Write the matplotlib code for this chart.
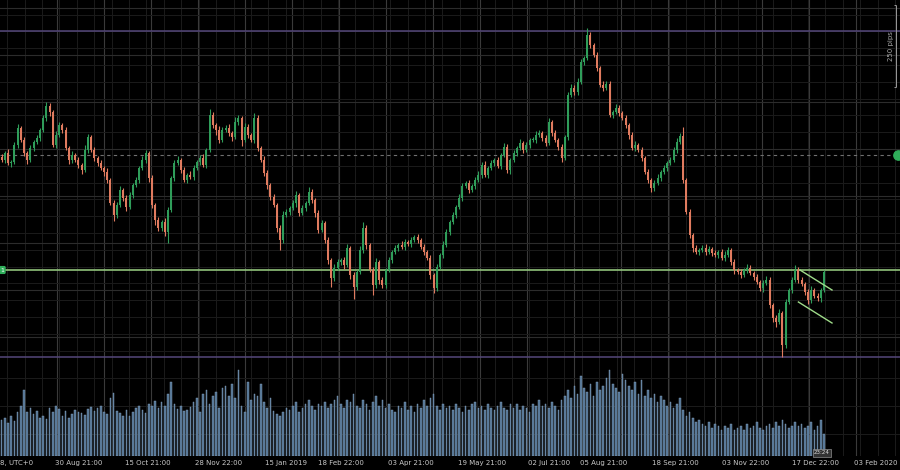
import matplotlib
matplotlib.use('Agg')
import matplotlib.pyplot as plt
import numpy as np

# close levels (1 unit ~ 3 pips above 1.2000), one value per daily candle
closes = [
    200, 207, 197, 198, 215, 232, 220, 207, 200, 212,
    218, 222, 230, 242, 254, 248, 215, 225, 235, 230,
    212, 200, 205, 200, 195, 190, 210, 223, 210, 202,
    197, 192, 188, 180, 157, 145, 155, 170, 162, 153,
    165, 175, 180, 192, 200, 207, 182, 155, 140, 132,
    138, 128, 150, 182, 197, 200, 190, 180, 185, 183,
    192, 198, 202, 195, 210, 245, 235, 230, 220, 230,
    232, 227, 223, 238, 242, 220, 233, 225, 220, 242,
    212, 200, 187, 175, 163, 155, 132, 120, 145, 148,
    152, 157, 165, 147, 152, 157, 168, 160, 147, 130,
    137, 120, 100, 82, 92, 98, 100, 95, 112, 85,
    73, 88, 110, 132, 115, 90, 75, 98, 80, 75,
    90, 100, 108, 112, 115, 113, 118, 116, 120, 123,
    120, 113, 108, 102, 85, 72, 93, 105, 115, 128,
    138, 145, 153, 162, 174, 177, 170, 174, 180, 185,
    195, 185, 192, 197, 200, 194, 205, 213, 190, 200,
    207, 212, 217, 210, 215, 220, 220, 225, 227, 222,
    217, 238, 227, 220, 213, 202, 223, 265, 272, 268,
    278, 298, 302, 325, 315, 305, 292, 275, 272, 276,
    245, 248, 252, 247, 242, 235, 225, 212, 215, 210,
    202, 188, 180, 172, 177, 182, 188, 192, 197, 200,
    210, 218, 224, 180, 148, 125, 112, 108, 110, 112,
    108, 111, 107, 105, 108, 102, 105, 110, 98, 90,
    88, 85, 90, 92, 87, 83, 78, 72, 77, 80,
    55, 42, 38, 47, 15, 58, 70, 80, 90, 80,
    76, 68, 60, 70, 64, 62, 70, 88,
]
first_open = 203

wick_up = [
    3, 2, 4, 2, 3, 4, 2, 3, 2, 3,
    2, 3, 2, 3, 4, 3, 2, 4, 3, 2,
    3, 2, 4, 2, 3, 2, 5, 3, 2, 3,
    2, 3, 2, 4, 2, 3, 3, 4, 2, 3,
    3, 2, 3, 2, 4, 3, 2, 3, 2, 3,
    2, 4, 3, 2, 3, 4, 2, 3, 2, 4,
    3, 2, 3, 4, 2, 6, 3, 2, 4, 3,
    3, 4, 2, 5, 3, 2, 4, 3, 2, 5,
    3, 2, 4, 3, 2, 3, 2, 3, 4, 3,
    2, 3, 4, 2, 3, 2, 5, 3, 2, 3,
    3, 2, 3, 2, 4, 3, 2, 3, 4, 2,
    3, 2, 4, 6, 3, 2, 3, 4, 2, 3,
    2, 3, 2, 3, 2, 4, 3, 2, 3, 2,
    3, 2, 3, 2, 3, 2, 3, 2, 4, 3,
    2, 3, 2, 4, 3, 2, 3, 2, 3, 4,
    3, 4, 2, 3, 2, 3, 2, 4, 3, 2,
    3, 2, 4, 2, 3, 2, 3, 4, 3, 2,
    3, 4, 2, 3, 2, 3, 2, 3, 4, 3,
    4, 3, 2, 7, 3, 2, 3, 2, 4, 3,
    3, 2, 4, 3, 2, 3, 2, 3, 4, 2,
    3, 2, 3, 2, 3, 4, 2, 3, 2, 3,
    3, 4, 3, 9, 2, 3, 2, 3, 2, 3,
    4, 3, 2, 3, 2, 3, 4, 3, 2, 3,
    2, 3, 2, 4, 3, 2, 3, 2, 3, 4,
    3, 2, 3, 4, 2, 3, 2, 3, 5, 3,
    3, 2, 3, 4, 2, 3, 2, 2,
]
wick_dn = [
    2, 3, 2, 4, 2, 3, 2, 3, 4, 2,
    3, 2, 3, 2, 3, 4, 2, 3, 2, 3,
    2, 4, 3, 2, 3, 4, 2, 3, 2, 3,
    3, 2, 4, 3, 2, 6, 3, 2, 3, 4,
    2, 3, 2, 3, 2, 3, 4, 3, 5, 3,
    3, 4, 11, 2, 3, 2, 3, 2, 3, 2,
    3, 2, 3, 2, 3, 2, 3, 5, 3, 2,
    2, 3, 4, 2, 3, 6, 2, 3, 2, 3,
    3, 2, 3, 4, 3, 2, 4, 10, 3, 2,
    3, 2, 4, 3, 2, 3, 2, 3, 4, 3,
    2, 3, 4, 9, 3, 2, 3, 4, 2, 4,
    12, 3, 2, 3, 4, 2, 10, 3, 4, 3,
    3, 2, 3, 2, 3, 2, 3, 2, 3, 2,
    3, 2, 3, 2, 4, 5, 3, 2, 3, 2,
    3, 2, 3, 2, 3, 2, 3, 2, 3, 2,
    3, 2, 3, 2, 3, 2, 3, 2, 3, 4,
    2, 3, 2, 3, 2, 3, 2, 3, 2, 3,
    3, 2, 3, 2, 3, 4, 2, 3, 2, 3,
    3, 2, 3, 2, 3, 2, 3, 2, 3, 2,
    2, 3, 2, 3, 2, 3, 4, 2, 3, 2,
    3, 2, 3, 4, 3, 2, 3, 2, 3, 2,
    2, 3, 2, 3, 2, 3, 4, 2, 3, 2,
    3, 2, 3, 2, 3, 2, 3, 2, 3, 4,
    2, 3, 2, 3, 2, 3, 2, 3, 4, 2,
    3, 4, 5, 2, 12, 3, 2, 3, 2, 3,
    2, 3, 4, 3, 2, 3, 4, 2,
]

volume = [
    36, 38, 33, 40, 35, 44, 50, 66, 44, 48,
    42, 45, 38, 40, 37, 48, 44, 50, 47, 40,
    45, 38, 42, 46, 44, 43, 41, 47, 49, 45,
    48, 50, 44, 42, 58, 63, 45, 43, 40, 46,
    40, 44, 48, 50, 46, 43, 52, 50, 55, 48,
    54, 50, 62, 74, 52, 47, 50, 45, 46, 49,
    54, 58, 44, 62, 66, 52, 60, 64, 48, 68,
    70, 60, 72, 58, 86, 50, 44, 74, 56, 62,
    60, 72, 54, 48, 58, 45, 42, 40, 44, 48,
    46, 50, 54, 44, 48, 52, 56, 50, 46, 52,
    50, 54, 48, 52, 56, 60, 52, 48, 56, 54,
    62, 50, 48, 56, 52, 46, 54, 60, 50, 56,
    48, 52, 46, 44, 50, 48, 54, 46, 50, 44,
    52, 48, 56, 50, 58, 62, 50, 46, 52, 48,
    50, 46, 52, 48, 44, 50, 46, 52, 54, 48,
    50, 46, 52, 48, 46, 50, 54, 48, 46, 52,
    48, 52, 46, 50, 48, 44, 52, 50, 56, 50,
    52, 48, 54, 50, 46, 56, 60, 66, 58, 70,
    62, 80, 68, 64, 72, 60, 74, 66, 70, 78,
    86, 72, 68, 64, 82, 76, 70, 66, 74, 62,
    76, 60, 66, 58, 62, 54, 60, 56, 50, 54,
    48, 52, 58, 46, 40, 44, 38, 34, 36, 32,
    30, 34, 28, 32, 30, 26, 30, 28, 32, 26,
    28, 30, 26, 32, 28, 30, 34, 28, 26, 30,
    32, 28, 34, 30, 36, 32, 28, 30, 34, 30,
    32, 28, 30, 34, 26, 30, 36, 22,
]

tick_labels = ['8, UTC+0', '30 Aug 21:00', '15 Oct 21:00', '28 Nov 22:00', '15 Jan 2019',
               '18 Feb 22:00', '03 Apr 21:00', '19 May 21:00', '02 Jul 21:00', '05 Aug 21:00',
               '18 Sep 21:00', '03 Nov 22:00', '17 Dec 22:00', '03 Feb 2020']
tick_pos = [-0.5, 16.7, 38.6, 60.4, 82.3, 98.9, 120.8, 142.6, 164.5, 180.8, 203.3, 225.1, 247.0, 266.3]

# levels drawn on the chart
purple_levels = [329, 3]
support_level = 90
dashed_level = 205
chan_upper = ([249.5, 259.5], [90, 70])
chan_lower = ([249.0, 259.5], [58, 37])

pip = 0.000305
base = 1.2000


def to_price(v):
    return base + np.asarray(v, dtype=float) * pip


c = np.array(closes, dtype=float)
o = np.r_[first_open, c[:-1]]
hi = np.maximum(o, c) + np.array(wick_up)
lo = np.minimum(o, c) - np.array(wick_dn)
idx = np.arange(len(c))

up_col = '#2f9d5a'
dn_col = '#e07b5f'
cols = np.where(c >= o, up_col, dn_col)

fig = plt.figure(figsize=(9, 4.7), dpi=100, facecolor='black')
ax = fig.add_axes([0, 110 / 470, 1, 360 / 470])
axv = fig.add_axes([0, 14 / 470, 1, 96 / 470])

xmin, xmax = -0.5, 280.75
for a in (ax, axv):
    a.set_facecolor('black')
    a.set_xlim(xmin, xmax)
    a.set_xticks([])
    a.set_yticks([])
    for s in a.spines.values():
        s.set_visible(False)

ax.set_ylim(to_price(0), to_price(360))
axv.set_ylim(0, 96)

# grid: dim minor lines and brighter major lines
minor_x = np.arange(224.8 - 5.44 * 42, xmax, 5.44)
major_x = np.arange(17.3, xmax, 14.69)
for a in (ax, axv):
    for x in minor_x:
        a.axvline(x, color='#1b1b1b', lw=0.7, zorder=0)
    for x in major_x:
        a.axvline(x, color='#3a3a3a', lw=0.8, zorder=0)
for yv in np.arange(211 - 16.8 * 13, 360, 16.8):
    ax.axhline(to_price(yv), color='#1b1b1b', lw=0.7, zorder=0)
for yv in np.arange(211 - 47 * 5, 360, 47):
    ax.axhline(to_price(yv), color='#2c2c2c', lw=0.8, zorder=0)
for yv in [22, 50, 78]:
    axv.axhline(yv, color='#1b1b1b', lw=0.7, zorder=0)

# reference lines
for lv in purple_levels:
    ax.axhline(to_price(lv), color='#54477a', lw=1.1, zorder=1)
ax.axhline(to_price(support_level), color='#8fc27a', lw=1.2, zorder=1)
ax.axhline(to_price(dashed_level), color='#707070', lw=0.8, ls=(0, (3, 3)), zorder=1)

# candles
ax.vlines(idx, to_price(lo), to_price(hi), colors=cols, lw=0.8, zorder=3)
body = np.maximum(np.abs(c - o), 0.8) * pip
ax.bar(idx, body, bottom=to_price(np.minimum(o, c)), width=0.62, color=cols, lw=0, zorder=4)

# channel drawn on the last swing
ax.plot(chan_upper[0], to_price(chan_upper[1]), color='#9fdc8a', lw=1.0, zorder=5)
ax.plot(chan_lower[0], to_price(chan_lower[1]), color='#9fdc8a', lw=1.0, zorder=5)

# level tags
ax.text(xmin + 0.1, to_price(support_level), '1', color='white', fontsize=4.5, ha='left', va='center',
        bbox=dict(boxstyle='round,pad=0.25', fc='#2fae5a', ec='none'), zorder=6)
ax.scatter([280.2], [to_price(dashed_level)], s=45, marker='o', color='#2fae5a', zorder=6, clip_on=False)

# 250 pips ruler
rx = 279.5
ax.vlines(rx, to_price(273), to_price(355), color='#9a9a9a', lw=0.7)
ax.hlines([to_price(273), to_price(355)], rx - 0.7, rx, color='#9a9a9a', lw=0.7)
ax.text(rx - 1.6, to_price(314), '250 pips', rotation=90, color='#a8a8a8', fontsize=5,
        ha='center', va='center')

# volume
axv.bar(idx, volume, width=0.55, color='#4f6f8f', edgecolor='#88a6c2', lw=0.3, zorder=3)
axv.text(256.3, 3, '23:24', color='#dddddd', fontsize=4, ha='center', va='center',
         bbox=dict(boxstyle='square,pad=0.2', fc='#333333', ec='#aaaaaa', lw=0.4), zorder=6)

# time axis labels
for p, lab in zip(tick_pos, tick_labels):
    axv.text(p, -0.045, lab, transform=axv.get_xaxis_transform(), color='#c8c8c8',
             fontsize=5.0, ha='left', va='top', clip_on=False)

fig.savefig('out.png', dpi=100, facecolor='black')
